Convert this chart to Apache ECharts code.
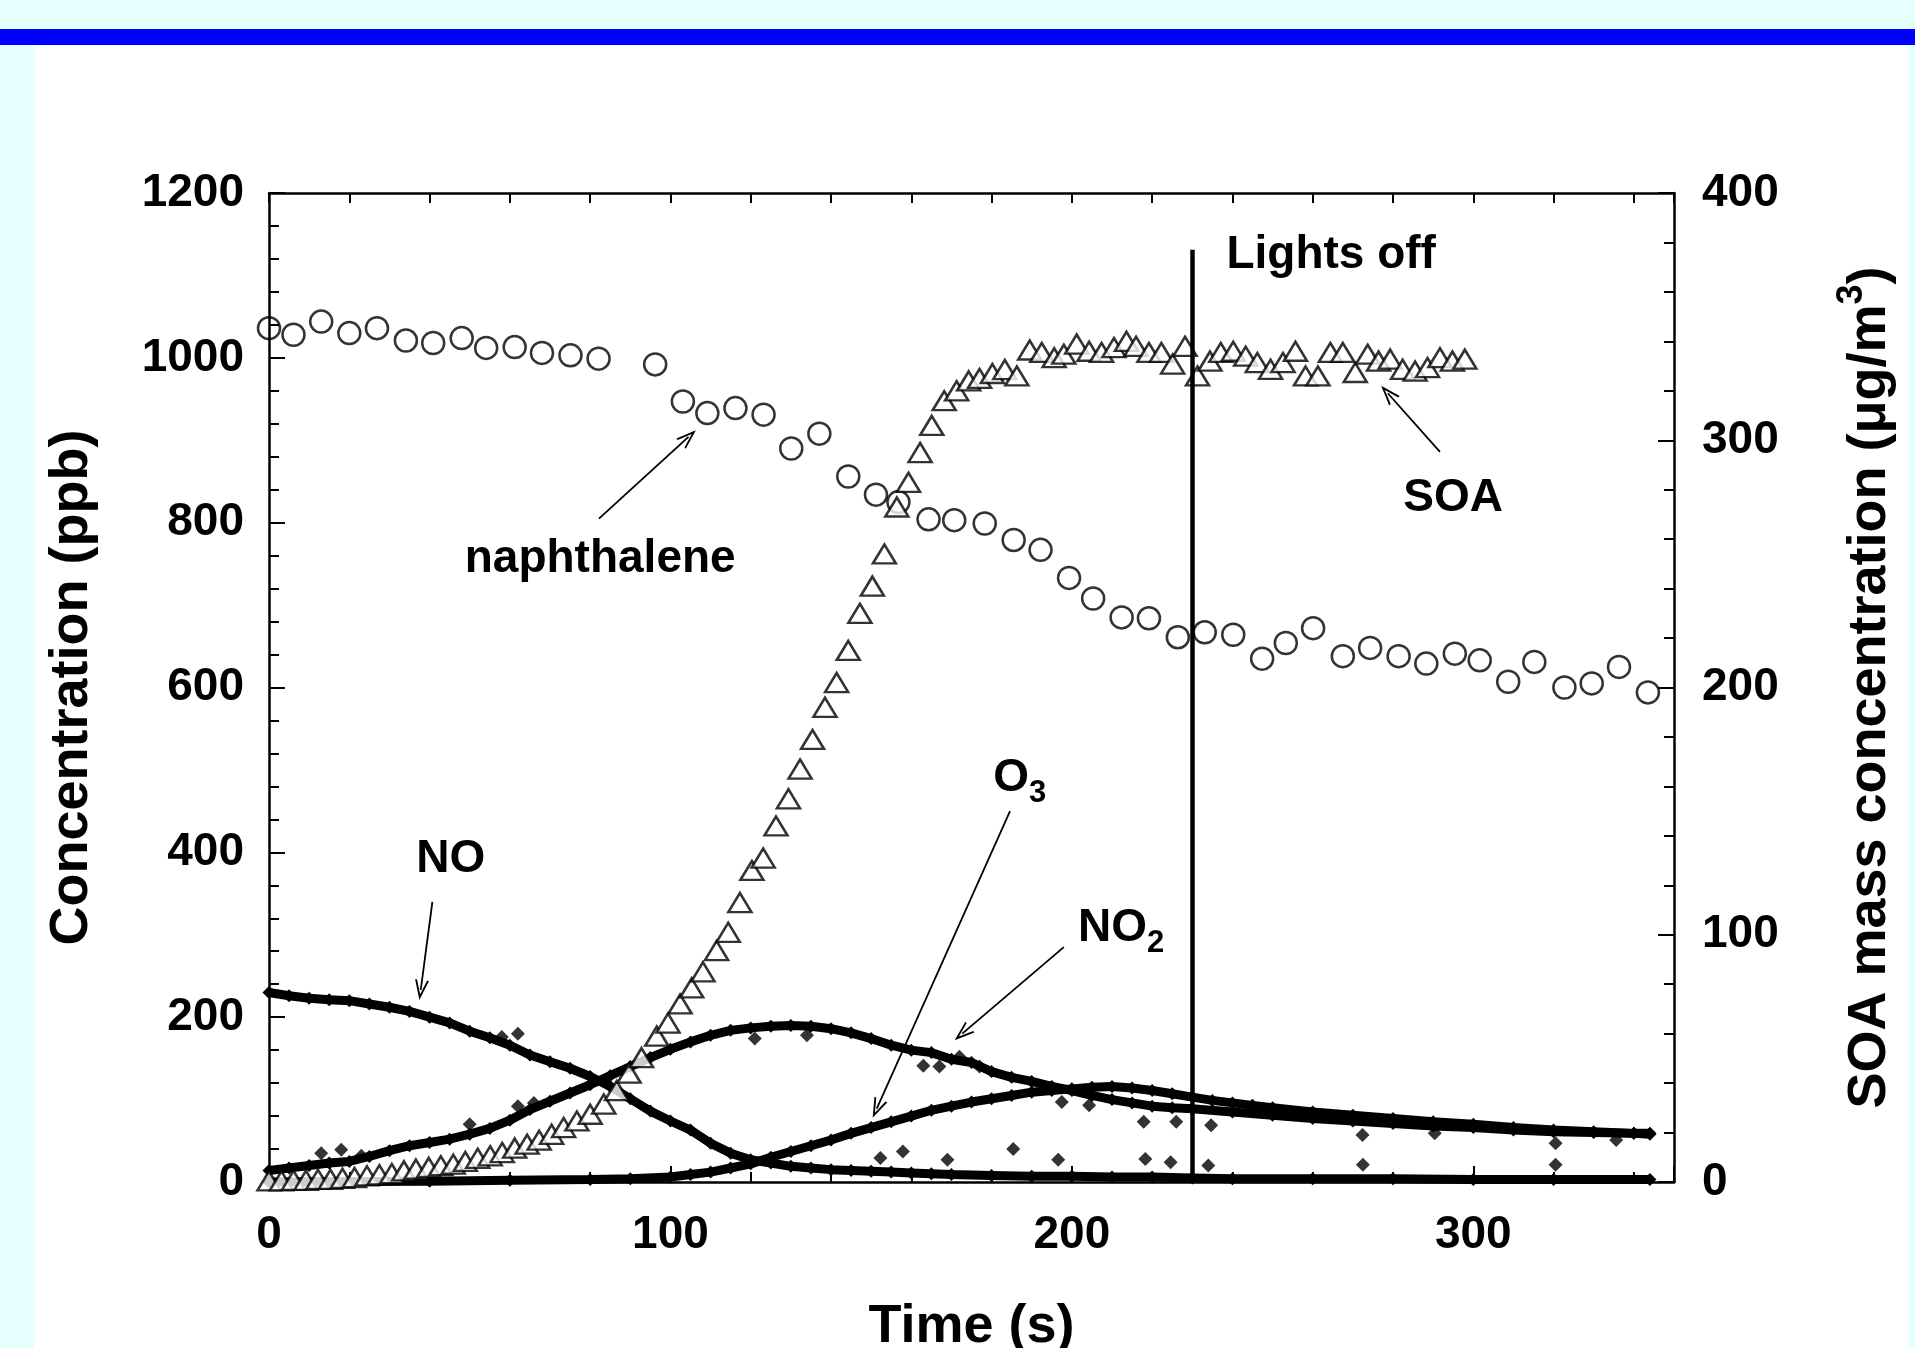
<!DOCTYPE html>
<html>
<head>
<meta charset="utf-8">
<script src="https://cdn.jsdelivr.net/npm/echarts@6/dist/echarts.min.js"></script>
<style>
  html, body { margin: 0; padding: 0; width: 1915px; height: 1348px; overflow: hidden; background: #e6ffff; }
  #band { position: absolute; left: 0; top: 29px; width: 1915px; height: 16px; background: #0000ff; }
  #panel { position: absolute; left: 34px; top: 46px; width: 1874px; height: 1302px; background: #ffffff; }
  #chart { position: absolute; left: 0; top: 0; width: 1915px; height: 1348px; }
</style>
</head>
<body>
<div id="band"></div>
<div id="panel"></div>
<div id="chart"></div>
<script>
// time (s), ppb
const naphthalene = [
  [0, 1036], [6.1, 1028], [13, 1044], [20, 1030], [26.9, 1036], [34.1, 1021], [40.9, 1018],
  [48, 1024], [54.1, 1012], [61.2, 1013], [68, 1006], [75.1, 1003], [82.1, 999], [96.2, 992],
  [103.1, 947], [109.2, 933], [116.2, 939], [123.2, 931], [130.1, 890], [137.1, 908], [144.3, 856],
  [151.2, 834], [156.8, 825], [164.3, 804], [170.7, 803], [178.3, 799], [185.5, 779], [192.2, 767],
  [199.3, 733], [205.3, 708], [212.4, 685], [219.2, 684], [226.4, 661], [233.1, 667], [240.2, 664],
  [247.4, 635], [253.3, 654], [260.1, 672], [267.5, 638], [274.3, 648], [281.4, 638], [288.3, 629],
  [295.4, 641], [301.6, 633], [308.7, 607], [315.2, 631], [322.7, 600], [329.5, 605], [336.3, 625],
  [343.5, 594]
];

// time (s), ug/m3 (right axis)
const soa = [
  [0, 0.5], [3.1, 0.5], [6.1, 0.7], [9.2, 0.7], [12.2, 1.1], [15.3, 1.1], [18.3, 1.5], [21.3, 1.8],
  [24.4, 2.5], [27.5, 2.9], [30.6, 3.4], [33.6, 4.5], [36.6, 5.2], [39.8, 5.9], [42.8, 6.6],
  [45.9, 7.2], [48.9, 8.3], [52, 9.6], [55.1, 10.6], [58.1, 11.9], [61.2, 13.7], [64.3, 15.3],
  [67.3, 16.9], [70.4, 19.3], [73.4, 22], [76.7, 24.7], [80, 27.4], [83.4, 31.5], [86.6, 37],
  [89.7, 44], [92.8, 50.3], [96.6, 59], [99.4, 64.3], [102.4, 72], [105.3, 78.5], [108.1, 85],
  [111.5, 93.6], [114.4, 101], [117.3, 113], [120.3, 126], [123.1, 131], [126.3, 144], [129.4, 155],
  [132.3, 167], [135.4, 179], [138.5, 192], [141.4, 202], [144.3, 215], [147.2, 230], [150.3, 241],
  [153.3, 254], [156.4, 273], [159.3, 283], [162.2, 295], [165.1, 306], [168.2, 316], [171.3, 320],
  [174.3, 324], [177, 325], [180.2, 327], [183.3, 328.6], [186.3, 326], [189.5, 336.5], [192.5, 335.5],
  [195.6, 333.4], [198, 334.8], [201.2, 338.9], [204.3, 336], [207.4, 335.5], [210.5, 337.5],
  [213.6, 340], [216, 338], [219.2, 335.5], [222.3, 335.5], [225.1, 330.8], [228.2, 338], [231.3, 326],
  [234.4, 332], [237.1, 335.5], [240.2, 336], [243.3, 334], [246.2, 331.4], [249.5, 328.7],
  [252.6, 331.4], [255.7, 336], [258.2, 326], [261.3, 326], [264.4, 335.5], [267.5, 335.5],
  [270.6, 327.4], [273.7, 334.8], [276.4, 332], [279.3, 332.8], [282.4, 328.7], [285.5, 328],
  [288.6, 329.4], [291.7, 333.4], [294.8, 332], [297.9, 332.8]
];

const no = [
  [0, 230], [5, 226], [10, 223], [15, 221], [20, 220], [25, 216], [30, 212], [35, 207], [40, 200],
  [45, 193], [50, 183], [55, 175], [60, 166], [65, 154], [70, 146], [75, 138], [80, 128], [85, 116],
  [90, 101], [95, 86], [100, 74], [105, 63], [110, 47], [115, 35], [120, 27], [125, 23], [130, 19],
  [135, 17], [140, 15], [145, 14], [150, 13], [155, 12], [160, 11], [165, 10], [170, 9], [180, 8],
  [190, 7], [200, 7], [210, 6], [220, 6], [230, 5], [240, 4], [260, 4], [280, 4], [300, 3], [320, 3],
  [344, 3]
];

const no2 = [
  [0, 14], [5, 17], [10, 20], [15, 23], [20, 25], [25, 31], [30, 38], [35, 44], [40, 48], [45, 52],
  [50, 58], [55, 65], [60, 75], [65, 88], [70, 98], [75, 108], [80, 118], [85, 129], [90, 140],
  [95, 151], [100, 161], [105, 170], [110, 178], [115, 184], [120, 187], [125, 189], [130, 190],
  [135, 189], [140, 186], [145, 181], [150, 174], [155, 166], [160, 160], [165, 157], [170, 149],
  [175, 145], [180, 134], [185, 127], [190, 122], [195, 116], [200, 111], [205, 105], [210, 100],
  [215, 96], [220, 92], [225, 90], [230, 89], [240, 85], [250, 81], [260, 77], [270, 74], [280, 71],
  [290, 68], [300, 66], [310, 63], [320, 61], [330, 60], [340, 59], [344, 59]
];

const o3 = [
  [0, 0], [20, 0.5], [40, 1], [60, 2], [80, 3], [90, 4], [100, 6], [105, 9], [110, 12], [115, 17],
  [120, 22], [125, 30], [130, 37], [135, 44], [140, 51], [145, 59], [150, 66], [155, 73], [160, 80],
  [165, 87], [170, 92], [175, 97], [180, 101], [185, 105], [190, 109], [195, 111], [200, 113],
  [205, 115], [210, 116], [215, 114], [220, 111], [225, 107], [230, 103], [235, 99], [240, 96],
  [245, 93], [250, 90], [260, 85], [270, 81], [280, 77], [290, 73], [300, 70], [310, 66], [320, 63],
  [330, 61], [340, 59], [344, 58]
];

// stray readings off the NO / NO2 traces
const noStray = [
  [58, 176], [62, 180], [152.3, 29], [157.9, 37], [169, 27], [185.4, 40], [196.6, 27],
  [218.3, 28], [224.6, 24], [234, 20], [272.5, 21], [320.5, 21]
];
const no2Stray = [
  [13, 35], [18, 39], [23, 32], [50, 70], [62, 92], [66, 96], [121, 174], [134, 178],
  [163, 141], [167, 140], [172, 152], [177, 140], [197.5, 97], [204.3, 93], [217.9, 73],
  [226, 73], [234.7, 69], [272.4, 57], [290.4, 59], [320.5, 47], [335.6, 51]
];

const lightsOffTime = 230;

// annotation text and arrows, in data units of the left axis
const labels = [
  { text: "{m|naphthalene}", at: [82.5, 755] },
  { text: "{m|NO}", at: [45.3, 391] },
  { text: "{m|O}{s|3}", at: [187, 490] },
  { text: "{m|NO}{s|2}", at: [212.3, 308] },
  { text: "{m|SOA}", at: [295, 829] },
  { text: "{m|Lights off}", at: [264.6, 1124] }
];
const arrows = [
  [[82.2, 805], [104.5, 904]],
  [[40.7, 340], [37.8, 233]],
  [[184.6, 450], [151.4, 89]],
  [[198, 285], [172.7, 180]],
  [[291.7, 886], [278.7, 957]]
];

const FONT = '"Liberation Sans", Arial, Helvetica, sans-serif';
const BLACK = "#000";

const axisLine = { show: true, onZero: false, lineStyle: { color: BLACK, width: 2.5 } };
const tickStyle = { color: BLACK, width: 2 };
const labelStyle = { color: BLACK, fontSize: 46, fontWeight: "bold", fontFamily: FONT };
const titleStyle = { color: BLACK, fontSize: 54, fontWeight: "bold", fontFamily: FONT };

const denseLine = (name, data) => ({
  name,
  type: "line",
  data,
  xAxisIndex: 0,
  yAxisIndex: 0,
  symbol: "diamond",
  symbolSize: 13,
  showSymbol: true,
  lineStyle: { color: BLACK, width: 9 },
  itemStyle: { color: BLACK },
  silent: true,
});

const stray = (name, data) => ({
  name,
  type: "scatter",
  data,
  symbol: "diamond",
  symbolSize: 14,
  itemStyle: { color: BLACK },
  silent: true,
});

const option = {
  animation: false,
  backgroundColor: "transparent",
  grid: { left: 269, right: 241, top: 193, bottom: 166, containLabel: false, outerBoundsMode: "none" },
  xAxis: [
    {
      type: "value", min: 0, max: 350, interval: 100, position: "bottom",
      axisLine,
      axisTick: { show: true, inside: true, length: 16, lineStyle: tickStyle },
      axisLabel: { ...labelStyle, margin: 30, formatter: (v) => (v % 100 === 0 ? String(v) : "") },
      splitLine: { show: false },
      name: "Time (s)", nameLocation: "middle", nameGap: 118, nameTextStyle: titleStyle,
    },
    {
      type: "value", min: 0, max: 350, interval: 20, position: "bottom",
      axisLine: { show: false, onZero: false },
      axisTick: { show: true, inside: true, length: 10, lineStyle: tickStyle },
      axisLabel: { show: false },
      splitLine: { show: false },
    },
    {
      type: "value", min: 0, max: 350, interval: 20, position: "top",
      axisLine,
      axisTick: { show: true, inside: true, length: 10, lineStyle: tickStyle },
      axisLabel: { show: false },
      splitLine: { show: false },
    },
  ],
  yAxis: [
    {
      type: "value", min: 0, max: 1200, interval: 200, position: "left",
      axisLine,
      axisTick: { show: true, inside: true, length: 16, lineStyle: tickStyle },
      minorTick: { show: true, splitNumber: 5, length: 10, lineStyle: tickStyle },
      axisLabel: { ...labelStyle, margin: 25, formatter: (v) => String(v) },
      splitLine: { show: false },
      name: "Concentration (ppb)", nameLocation: "middle", nameGap: 170, nameRotate: 90,
      nameTextStyle: titleStyle,
    },
    {
      type: "value", min: 0, max: 400, interval: 100, position: "right",
      axisLine,
      axisTick: { show: true, inside: true, length: 16, lineStyle: tickStyle },
      minorTick: { show: true, splitNumber: 5, length: 10, lineStyle: tickStyle },
      axisLabel: { ...labelStyle, margin: 28, formatter: (v) => String(v) },
      splitLine: { show: false },
      name: "{a|SOA mass concentration (\u03bcg/m}{p|3}{a|)}",
      nameLocation: "middle", nameGap: 160, nameRotate: 90,
      nameTextStyle: {
        ...titleStyle,
        rich: {
          a: { ...titleStyle, lineHeight: 72, verticalAlign: "middle" },
          p: { ...titleStyle, fontSize: 36, lineHeight: 36, verticalAlign: "top" },
        },
      },
    },
  ],
  series: [
    denseLine("NO2", no2),
    denseLine("NO", no),
    denseLine("O3", o3),
    stray("NO stray", noStray),
    stray("NO2 stray", no2Stray),
    {
      name: "naphthalene",
      type: "scatter",
      data: naphthalene,
      xAxisIndex: 0,
      yAxisIndex: 0,
      symbol: "circle",
      symbolSize: 22,
      itemStyle: { color: "rgba(0,0,0,0)", borderColor: BLACK, borderWidth: 2.5 },
      silent: true,
      z: 3,
      markLine: {
        silent: true,
        animation: false,
        symbol: ["none", "path://M5,0 L10,10 L8.6,10 L5,2.8 L1.4,10 L0,10 Z"],
        symbolSize: [14, 20],
        label: { show: false },
        lineStyle: { color: BLACK, width: 1.8, type: "solid" },
        data: [
          ...arrows.map(([from, to]) => [{ coord: from }, { coord: to }]),
          [
            { coord: [lightsOffTime, 0], symbol: "none", lineStyle: { width: 4.5, color: BLACK, type: "solid" } },
            { coord: [lightsOffTime, 1131], symbol: "none" },
          ],
        ],
      },
      markPoint: {
        silent: true,
        animation: false,
        symbol: "circle",
        symbolSize: 1,
        itemStyle: { color: "rgba(0,0,0,0)" },
        label: {
          show: true,
          position: "inside",
          color: BLACK,
          rich: {
            m: { ...labelStyle, lineHeight: 62, verticalAlign: "middle" },
            s: { ...labelStyle, fontSize: 31, lineHeight: 31, verticalAlign: "bottom" },
          },
        },
        data: labels.map((l) => ({ coord: l.at, value: 0, label: { formatter: l.text } })),
      },
    },
    {
      name: "SOA",
      type: "scatter",
      data: soa,
      xAxisIndex: 0,
      yAxisIndex: 1,
      symbol: "triangle",
      symbolSize: [23, 19],
      itemStyle: { color: "#fff", borderColor: BLACK, borderWidth: 2.5 },
      silent: true,
      z: 4,
    },
  ],
};

const chart = echarts.init(document.getElementById("chart"));
chart.setOption(option);
</script>
</body>
</html>
